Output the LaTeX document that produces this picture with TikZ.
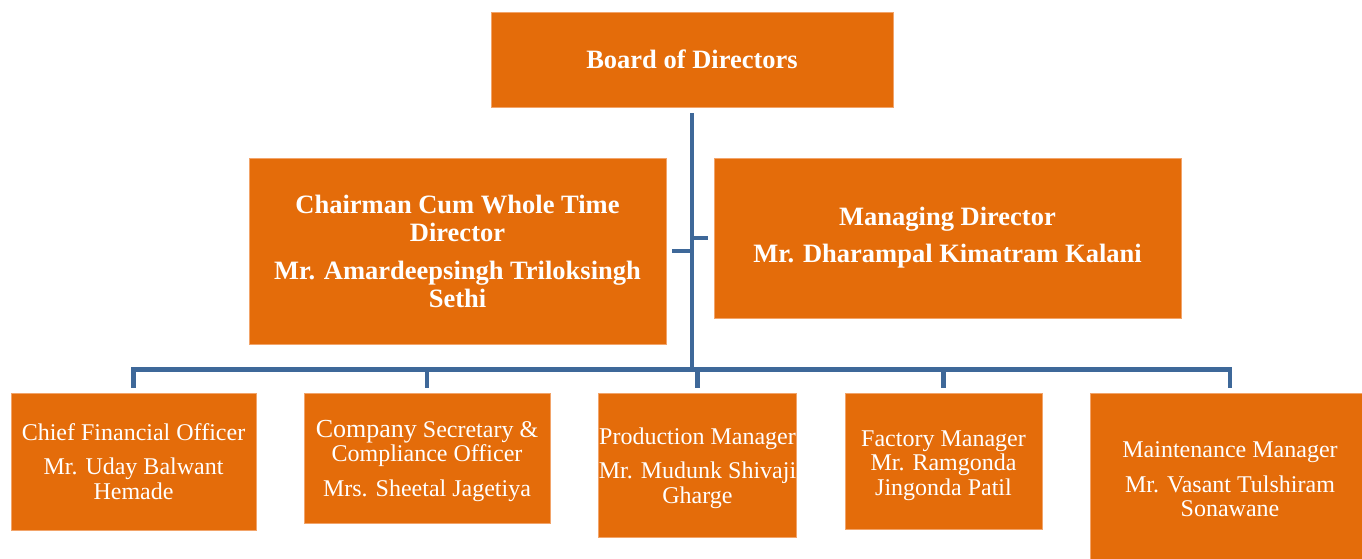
\documentclass[tikz,border=0pt]{standalone}
\usepackage{fontspec}
\setmainfont{Liberation Serif}
\definecolor{boxor}{HTML}{E46C0A}
\definecolor{boxedge}{HTML}{F2A46A}
\definecolor{linebl}{HTML}{3E6899}
\newcommand{\toppad}[1]{\rule{0pt}{#1}}
\begin{document}
\begin{tikzpicture}[x=1pt,y=-1pt,
  box/.style={fill=boxor, draw=boxedge, line width=0.8pt, inner sep=0pt, align=center, text=white, anchor=center},
  topbox/.style={box, font=\bfseries\fontsize{26.5}{28}\selectfont},
  lowbox/.style={box, font=\fontsize{24}{24.5}\selectfont},
  conn/.style={draw=linebl, line width=4.6pt, line join=miter}]
\useasboundingbox (0,0) rectangle (1362,559);
\node[topbox, minimum width=402pt, minimum height=95pt] (board) at (692,59.5) {Board of Directors};
\node[topbox, minimum width=417pt, minimum height=186pt] (chair) at (457.5,251)
  {Chairman Cum Whole Time\\Director\\[10pt]Mr. Amardeepsingh Triloksingh\\Sethi};
\node[topbox, minimum width=467pt, minimum height=160pt] (md) at (947.5,238)
  {Managing Director\\[9pt]Mr. Dharampal Kimatram Kalani};
\node[lowbox, minimum width=245pt, minimum height=137pt] (cfo) at (133.5,461.5)
  {Chief Financial Officer\\[10pt]Mr. Uday Balwant\\Hemade};
\node[lowbox, minimum width=246pt, minimum height=130pt] (cs) at (427,458)
  {\toppad{22.5pt}{\fontsize{26}{24.5}\selectfont Company} Secretary \&\\Compliance Officer\\[10pt]Mrs. Sheetal Jagetiya};
\node[lowbox, minimum width=197pt, minimum height=144pt] (prod) at (697.5,465)
  {\toppad{22.5pt}Production Manager\\[10pt]Mr. Mudunk Shivaji\\Gharge};
\node[lowbox, minimum width=197pt, minimum height=136pt] (fact) at (943.5,461)
  {\toppad{24.5pt}Factory Manager\\Mr. Ramgonda\\Jingonda Patil};
\node[lowbox, minimum width=280pt, minimum height=173pt] (maint) at (1230,479.5)
  {Maintenance Manager\\[10pt]Mr. Vasant Tulshiram\\Sonawane};
\coordinate (bus) at (692,369.5);
\draw[conn, shorten <=6pt] (board.south) -- (board.south |- bus);
\draw[conn] (chair.east -| board.south) -- ([xshift=6pt]chair.east);
\draw[conn] (md.west -| board.south) -- ([xshift=-6pt]md.west);
\draw[conn] ([yshift=5pt]cfo.north) -- (cfo.north |- bus) -- (maint.north |- bus) -- ([yshift=5pt]maint.north);
\draw[conn] (cs.north |- bus) -- ([yshift=5pt]cs.north);
\draw[conn] (prod.north |- bus) -- ([yshift=5pt]prod.north);
\draw[conn] (fact.north |- bus) -- ([yshift=5pt]fact.north);
\end{tikzpicture}
\end{document}
